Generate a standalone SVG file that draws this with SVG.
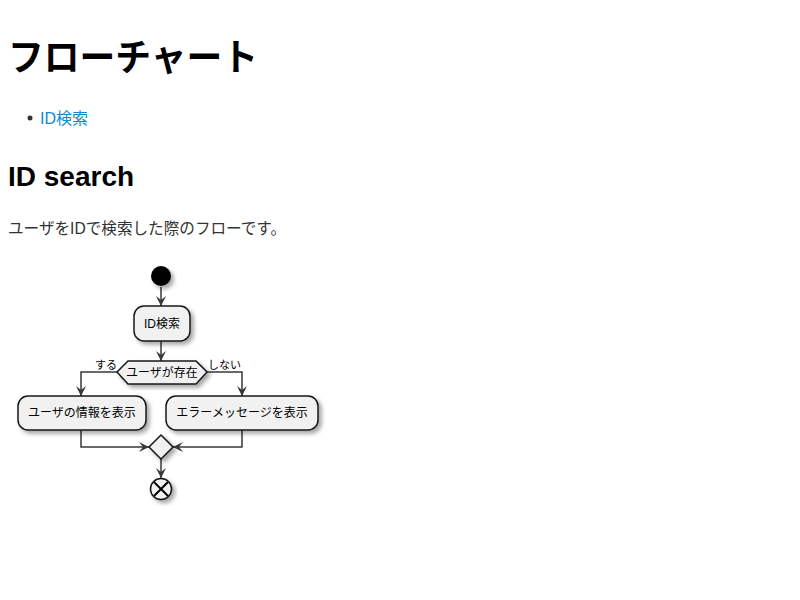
<svg xmlns="http://www.w3.org/2000/svg" width="800" height="600" viewBox="0 0 800 600">
<style>
.h1{font-family:"Liberation Sans","Noto Sans CJK JP",sans-serif;font-weight:bold;font-size:37px;fill:#000}
.h2{font-family:"Liberation Sans","Noto Sans CJK JP",sans-serif;font-weight:bold;font-size:28px;fill:#000}
.p{font-family:"Liberation Sans","Noto Sans CJK JP",sans-serif;font-size:16px;fill:#333}
.link{font-family:"Liberation Sans","Noto Sans CJK JP",sans-serif;font-size:16px;fill:#0d8ad0}
.t{font-family:"Liberation Sans","Noto Sans CJK JP",sans-serif;font-size:12px;fill:#000}
.lbl{font-family:"Liberation Sans","Noto Sans CJK JP",sans-serif;font-size:11px;fill:#000}
.n{fill:#F1F1F1;stroke:#181818;stroke-width:1.5;filter:url(#sh)}
.e{fill:none;stroke:#383838;stroke-width:1.5}
</style>
<defs>
<filter id="sh" x="-30%" y="-30%" width="160%" height="160%">
<feDropShadow dx="3" dy="3" stdDeviation="2" flood-color="#000" flood-opacity="0.35"/>
</filter>
<marker id="ar" viewBox="0 0 10 10" refX="10" refY="5" markerWidth="10" markerHeight="10" markerUnits="userSpaceOnUse" orient="auto">
<path d="M0,0 L10,5 L0,10 L4,5 Z" fill="#383838"/>
</marker>
</defs>
<text class="h1" x="8" y="71" textLength="250" lengthAdjust="spacingAndGlyphs">フローチャート</text>
<circle cx="30" cy="118" r="2.5" fill="#333"/>
<text class="link" x="40" y="124">ID検索</text>
<text class="h2" x="8" y="186">ID search</text>
<text class="p" x="8" y="234" textLength="278" lengthAdjust="spacingAndGlyphs">ユーザをIDで検索した際のフローです。</text>
<g id="connectors">
<line class="e" x1="161" y1="287" x2="161" y2="306" marker-end="url(#ar)"/>
<line class="e" x1="161" y1="341" x2="161" y2="361" marker-end="url(#ar)"/>
<polyline class="e" points="117,372 81,372 81,396" marker-end="url(#ar)"/>
<polyline class="e" points="207,372 242,372 242,396" marker-end="url(#ar)"/>
<polyline class="e" points="81,430 81,447 149,447" marker-end="url(#ar)"/>
<polyline class="e" points="242,430 242,447 173,447" marker-end="url(#ar)"/>
<line class="e" x1="161" y1="459" x2="161" y2="478" marker-end="url(#ar)"/>
<text class="lbl" x="95" y="369">する</text>
<text class="lbl" x="208" y="369">しない</text>
</g>
<g id="start"><circle cx="161" cy="276" r="10" fill="#000" filter="url(#sh)"/></g>
<g id="search"><rect class="n" x="134" y="306" width="56" height="35" rx="10"/><text class="t" x="162" y="328" text-anchor="middle">ID検索</text></g>
<g id="decision"><polygon class="n" points="117,372 128,361 196,361 207,372 196,384 128,384"/><text class="t" x="162" y="377" text-anchor="middle">ユーザが存在</text></g>
<g id="showuser"><rect class="n" x="18" y="396" width="128" height="34" rx="10"/><text class="t" x="82" y="417" text-anchor="middle">ユーザの情報を表示</text></g>
<g id="showerror"><rect class="n" x="166" y="396" width="152" height="34" rx="10"/><text class="t" x="242" y="417" text-anchor="middle">エラーメッセージを表示</text></g>
<g id="merge"><polygon class="n" points="161,435 173,447 161,459 149,447"/></g>
<g id="end"><circle class="n" cx="161" cy="489" r="10.5"/><path d="M154,482 L168,496 M168,482 L154,496" stroke="#000" stroke-width="2"/></g>
</svg>
